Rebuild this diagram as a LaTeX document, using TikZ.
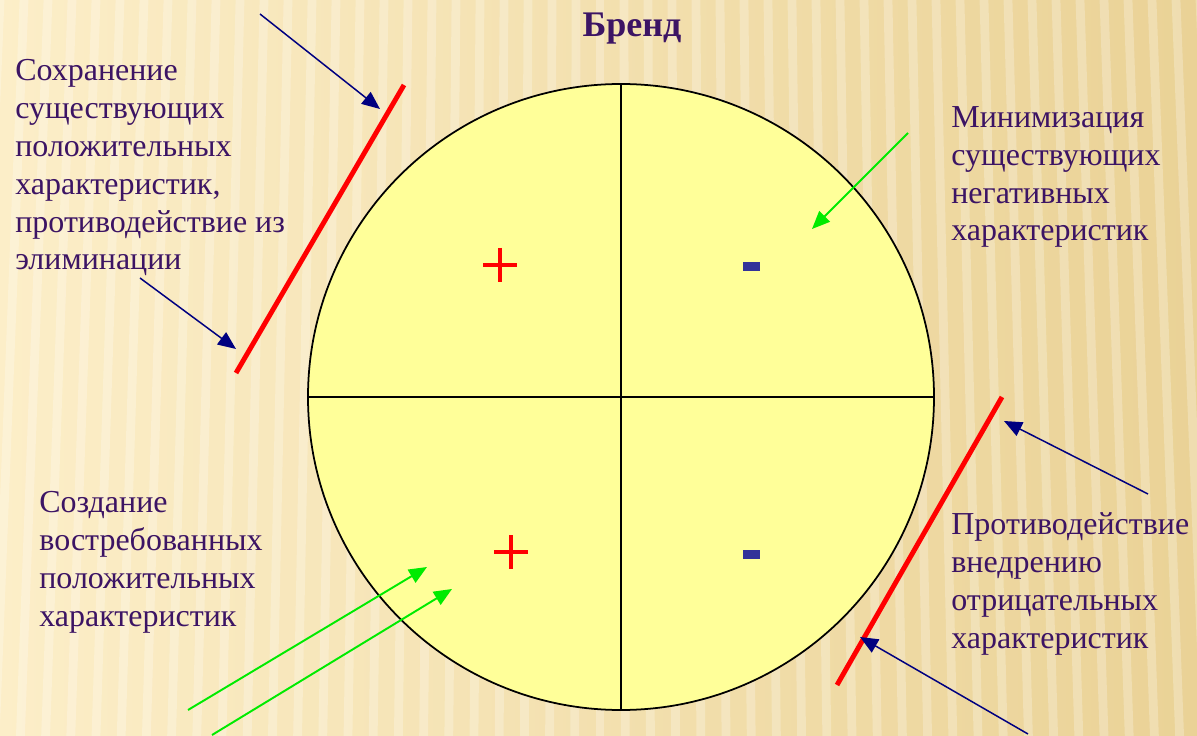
\documentclass[tikz,border=0pt]{standalone}
\usepackage{fontspec}
\setmainfont{Liberation Serif}
\usetikzlibrary{arrows.meta}
\definecolor{brandtext}{RGB}{60,20,100}
\definecolor{brandfill}{RGB}{255,255,153}
\definecolor{navyline}{RGB}{0,0,128}
\definecolor{greenline}{RGB}{0,235,0}
\definecolor{minusblue}{RGB}{51,51,153}
\definecolor{bgleft}{RGB}{252,238,200}
\definecolor{bgright}{RGB}{234,210,150}
\begin{document}
\begin{tikzpicture}[x=0.02cm,y=-0.02cm,
  notetext/.style={anchor=base west, align=left, inner sep=0pt, text=brandtext,
    font=\fontsize{18.2}{21.6}\selectfont},
  redbar/.style={draw=red, line width=2.8pt},
  navyarrow/.style={draw=navyline, line width=0.85pt, -{Triangle[length=0.36cm,width=0.3cm]}},
  greenarrow/.style={draw=greenline, line width=1.1pt, -{Triangle[length=0.36cm,width=0.3cm]}},
  plusmark/.style={draw=red, line width=2pt}]
\useasboundingbox (0,0) rectangle (1197,736);
% background
\shade[left color=bgleft, right color=bgright] (0,0) rectangle (1197,736);
\foreach \s in {0,24,...,1200}
  \draw[white, opacity=0.25, line width=5pt] (\s,0) -- ({\s+(\s-600)*0.05},736);

% circle with quadrants
\draw[fill=brandfill, line width=1pt] (621,397) circle[radius=313];
\coordinate (ctop) at (621,84);
\coordinate (cbot) at (621,710);
\coordinate (cleft) at (308,397);
\coordinate (cright) at (934,397);
\draw[line width=1pt] (ctop) -- (cbot);
\draw[line width=1pt] (cleft) -- (cright);

% signs
\draw[plusmark] (483,265) -- (517,265) (500,248) -- (500,282);
\draw[plusmark] (494,552) -- (528,552) (511,535) -- (511,569);
\fill[minusblue] (743,262) rectangle (760,271);
\fill[minusblue] (743,550) rectangle (760,559);

% texts (anchored at the baseline of the last line)
\node[anchor=base, inner sep=0pt, text=brandtext, font=\fontsize{20.5}{24}\selectfont\bfseries] (title) at (632,37) {Бренд};
\node[notetext] (keeppos) at (15,270) {Сохранение\\существующих\\положительных\\характеристик,\\противодействие из\\элиминации};
\node[notetext] (minneg) at (951,241) {Минимизация\\существующих\\негативных\\характеристик};
\node[notetext] (createpos) at (39,626) {Создание\\востребованных\\положительных\\характеристик};
\node[notetext] (resistneg) at (951,648) {Противодействие\\внедрению\\отрицательных\\характеристик};

% red bars
\coordinate (lbar-a) at (404,85);
\coordinate (lbar-b) at (236,373);
\coordinate (rbar-a) at (1002,397);
\coordinate (rbar-b) at (837,685);
\draw[redbar] (lbar-a) -- (lbar-b);
\draw[redbar] (rbar-a) -- (rbar-b);

% arrows
\coordinate (kp-from1) at (260,14);
\coordinate (kp-to1) at (380,109);
\coordinate (kp-from2) at (140,278);
\coordinate (kp-to2) at (236,349);
\draw[navyarrow] (kp-from1) -- (kp-to1);
\draw[navyarrow] (kp-from2) -- (kp-to2);
\coordinate (rn-from1) at (1148,494);
\coordinate (rn-to1) at (1004,421);
\coordinate (rn-from2) at (1028,734);
\coordinate (rn-to2) at (860,637);
\draw[navyarrow] (rn-from1) -- (rn-to1);
\draw[navyarrow] (rn-from2) -- (rn-to2);
\coordinate (mn-from) at (908,133);
\coordinate (mn-to) at (812,229);
\draw[greenarrow] (mn-from) -- (mn-to);
\coordinate (cp-from1) at (188,710);
\coordinate (cp-to1) at (427,567);
\coordinate (cp-from2) at (212,735);
\coordinate (cp-to2) at (452,589);
\draw[greenarrow] (cp-from1) -- (cp-to1);
\draw[greenarrow] (cp-from2) -- (cp-to2);
\end{tikzpicture}
\end{document}
